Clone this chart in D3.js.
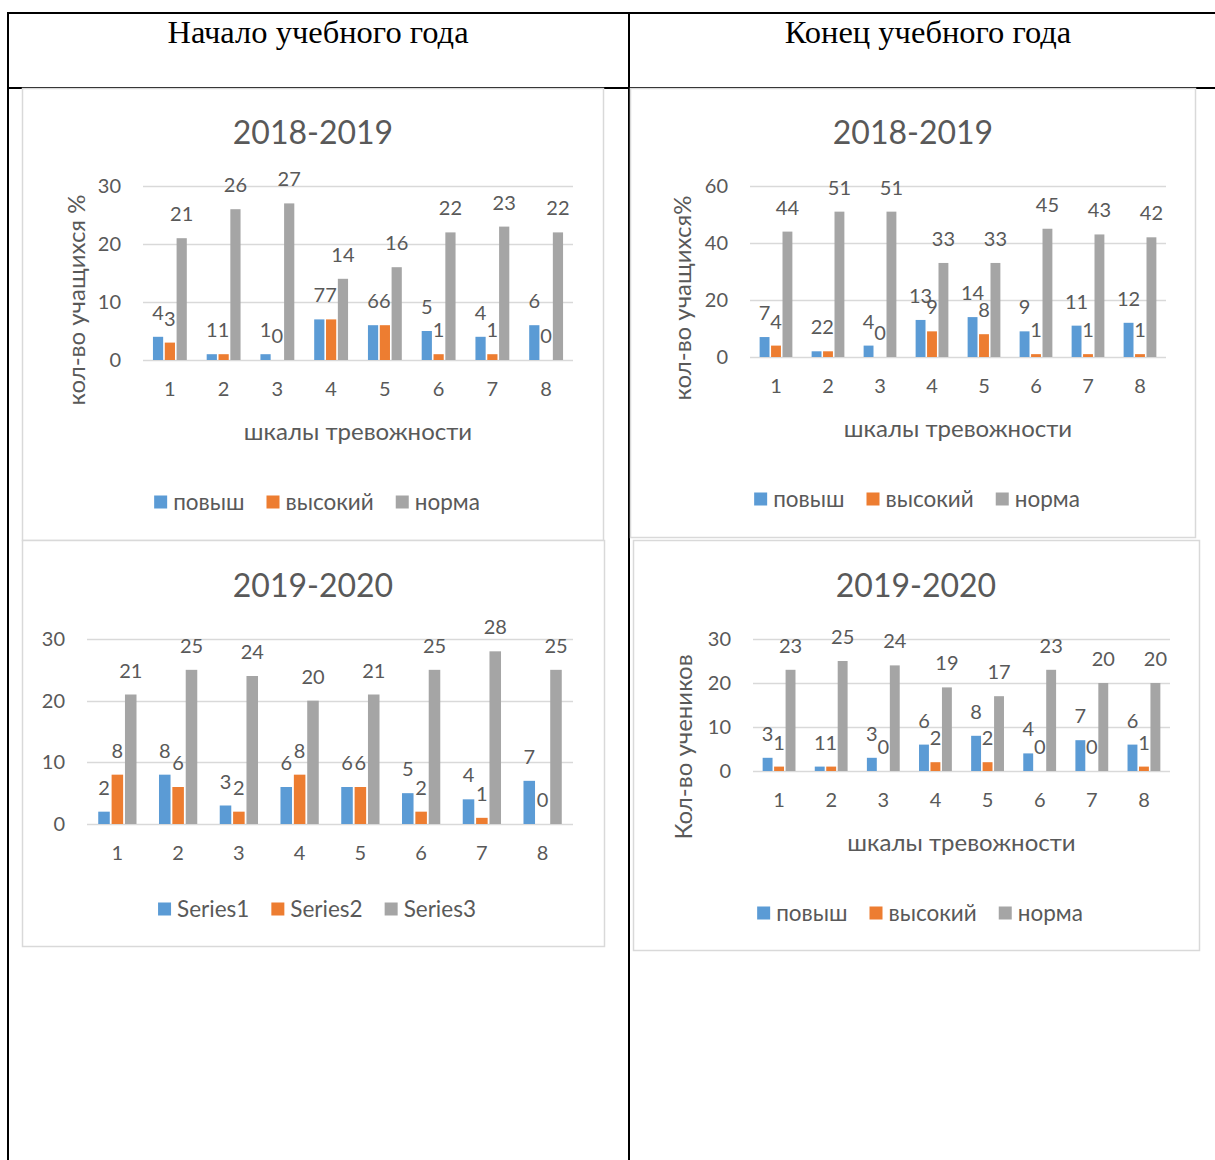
<!DOCTYPE html>
<html>
<head>
<meta charset="utf-8">
<script src="https://cdn.jsdelivr.net/npm/d3@7"></script>
<style>
  body { margin: 0; background: #fff; }
  svg text { font-family: Lato, "Open Sans", sans-serif; }
</style>
</head>
<body>
<div id="page"></div>
<script>
// categories (anxiety scales 1..8)
const scales = ["1", "2", "3", "4", "5", "6", "7", "8"];

// beginning of year, 2018-2019
const start1819Elev = [4, 1, 1, 7, 6, 5, 4, 6];
const start1819High = [3, 1, 0, 7, 6, 1, 1, 0];
const start1819Norm = [21, 26, 27, 14, 16, 22, 23, 22];

// end of year, 2018-2019
const end1819Elev = [7, 2, 4, 13, 14, 9, 11, 12];
const end1819High = [4, 2, 0, 9, 8, 1, 1, 1];
const end1819Norm = [44, 51, 51, 33, 33, 45, 43, 42];

// beginning of year, 2019-2020
const start1920S1 = [2, 8, 3, 6, 6, 5, 4, 7];
const start1920S2 = [8, 6, 2, 8, 6, 2, 1, 0];
const start1920S3 = [21, 25, 24, 20, 21, 25, 28, 25];

// end of year, 2019-2020
const end1920Elev = [3, 1, 3, 6, 8, 4, 7, 6];
const end1920High = [1, 1, 0, 2, 2, 0, 0, 1];
const end1920Norm = [23, 25, 24, 19, 17, 23, 20, 20];

const ticks30 = [0, 10, 20, 30];
const ticks60 = [0, 20, 40, 60];

const namesRu = ["повыш", "высокий", "норма"];
const namesEn = ["Series1", "Series2", "Series3"];

const colors = ["#5B9BD5", "#ED7D31", "#A5A5A5"];
const textColor = "#595959";

const width = 1215, height = 1160;

const svg = d3.select("#page")
  .append("svg")
  .attr("width", width)
  .attr("height", height)
  .attr("viewBox", [0, 0, width, height]);

/* Table lines and header */
const table = svg.append("g");
table.append("line").attr("x1", 7).attr("x2", width).attr("y1", 13).attr("y2", 13);
table.append("line").attr("x1", 8).attr("x2", 8).attr("y1", 12).attr("y2", height);
table.append("line").attr("x1", 629).attr("x2", 629).attr("y1", 12).attr("y2", height);
table.append("line").attr("x1", 7).attr("x2", width).attr("y1", 88).attr("y2", 88);
table.selectAll("line").attr("stroke", "#000").attr("stroke-width", 2);

table.selectAll("text.head")
  .data([["Начало учебного года", 318], ["Конец учебного года", 928]])
  .join("text")
    .attr("x", d => d[1])
    .attr("y", 43)
    .attr("text-anchor", "middle")
    .style("font-family", "'Liberation Serif', 'Times New Roman', serif")
    .style("font-size", "32.5px")
    .style("fill", "#000")
    .text(d => d[0]);

const createChart = (cfg) => {
  const g = svg.append("g");

  // chart frame
  g.append("rect")
    .attr("x", cfg.box[0] + 0.5).attr("y", cfg.box[1] + 0.5)
    .attr("width", cfg.box[2] - cfg.box[0]).attr("height", cfg.box[3] - cfg.box[1])
    .attr("fill", "#fff")
    .attr("stroke", "#D9D9D9")
    .attr("stroke-width", 1.5);

  const xScale = d3.scaleBand()
    .domain(scales)
    .range([cfg.plot[0], cfg.plot[1]]);

  const yScale = d3.scaleLinear()
    .domain([0, cfg.ticks[cfg.ticks.length - 1]])
    .range([cfg.plot[2], cfg.plot[3]]);

  const bw = xScale.bandwidth() * 0.19;
  const gap = xScale.bandwidth() * 0.03;
  const barX = (cat, i) => xScale(cat) + xScale.bandwidth() / 2 + (i - 1) * (bw + gap) - bw / 2;

  // title
  g.append("text")
    .attr("x", cfg.title[0]).attr("y", cfg.title[1])
    .attr("dy", "0.35em")
    .attr("text-anchor", "middle")
    .style("font-size", "32px")
    .style("fill", textColor)
    .text(cfg.titleText);

  // grid lines
  g.selectAll("line.grid")
    .data(cfg.ticks)
    .join("line")
      .attr("x1", cfg.plot[0]).attr("x2", cfg.plot[1])
      .attr("y1", d => Math.round(yScale(d)) + 0.5)
      .attr("y2", d => Math.round(yScale(d)) + 0.5)
      .attr("stroke", "#D9D9D9")
      .attr("stroke-width", 1.5);

  // y axis labels
  const yAxis = g.append("g")
    .attr("transform", `translate(${cfg.plot[0] - 22},0)`)
    .call(d3.axisLeft(yScale).tickValues(cfg.ticks).tickSize(0).tickPadding(0));
  yAxis.select(".domain").remove();
  yAxis.selectAll("text")
    .style("font-family", "Lato, sans-serif")
    .style("font-size", "20px")
    .style("fill", textColor);

  // x axis labels
  const xAxis = g.append("g")
    .attr("transform", `translate(0,${cfg.plot[2] + 22})`)
    .call(d3.axisBottom(xScale).tickSize(0).tickPadding(0));
  xAxis.select(".domain").remove();
  xAxis.selectAll("text")
    .style("font-family", "Lato, sans-serif")
    .style("font-size", "20px")
    .style("fill", textColor);

  // bars and labels
  cfg.series.forEach((values, i) => {
    const rows = scales.map((c, k) => ({cat: c, value: values[k]}));
    g.selectAll(`rect.s${i}`)
      .data(rows)
      .join("rect")
        .attr("class", `s${i}`)
        .attr("x", d => barX(d.cat, i))
        .attr("y", d => yScale(d.value))
        .attr("width", bw)
        .attr("height", d => yScale(0) - yScale(d.value))
        .attr("fill", colors[i]);

    g.selectAll(`text.l${i}`)
      .data(rows)
      .join("text")
        .attr("class", `l${i}`)
        .attr("x", d => barX(d.cat, i) + bw / 2)
        .attr("y", d => yScale(d.value) - 24)
        .attr("dy", "0.35em")
        .attr("text-anchor", "middle")
        .style("font-size", "20px")
        .style("fill", textColor)
        .text(d => d.value);
  });

  // axis titles
  if (cfg.xTitle) {
    g.append("text")
      .attr("x", (cfg.plot[0] + cfg.plot[1]) / 2)
      .attr("y", cfg.plot[2] + 72)
      .attr("dy", "0.35em")
      .attr("text-anchor", "middle")
      .style("font-size", "24px")
      .style("fill", textColor)
      .text(cfg.xTitle);
  }
  if (cfg.yTitle) {
    g.append("text")
      .attr("transform", `translate(${cfg.yTitlePos[0]},${cfg.yTitlePos[1]}) rotate(-90)`)
      .attr("dy", "0.35em")
      .attr("text-anchor", "middle")
      .style("font-size", "24px")
      .style("fill", textColor)
      .text(cfg.yTitle);
  }

  // legend
  const legend = g.append("g");
  let lx = 0;
  cfg.names.forEach((name, i) => {
    const item = legend.append("g").attr("transform", `translate(${lx},0)`);
    item.append("rect")
      .attr("x", 0).attr("y", -6.5)
      .attr("width", 13).attr("height", 13)
      .attr("fill", colors[i]);
    const t = item.append("text")
      .attr("x", 19)
      .attr("dy", "0.35em")
      .style("font-size", "22.5px")
      .style("fill", textColor)
      .text(name);
    lx += 19 + t.node().getComputedTextLength() + 22;
  });
  const legendW = lx - 22;
  legend.attr("transform", `translate(${cfg.legend[0] - legendW / 2},${cfg.legend[1]})`);
};

createChart({
  box: [22, 88, 603, 540],
  plot: [143, 573, 360, 186],
  ticks: ticks30,
  titleText: "2018-2019",
  title: [313, 133],
  series: [start1819Elev, start1819High, start1819Norm],
  names: namesRu,
  xTitle: "шкалы тревожности",
  yTitle: "кол-во учащихся %",
  yTitlePos: [77, 300],
  legend: [317, 502]
});

createChart({
  box: [630, 88, 1195, 537],
  plot: [750, 1166, 357, 186],
  ticks: ticks60,
  titleText: "2018-2019",
  title: [913, 133],
  series: [end1819Elev, end1819High, end1819Norm],
  names: namesRu,
  xTitle: "шкалы тревожности",
  yTitle: "кол-во учащихся%",
  yTitlePos: [683, 298],
  legend: [917, 499]
});

createChart({
  box: [22, 540, 604, 946],
  plot: [87, 573, 824, 639],
  ticks: ticks30,
  titleText: "2019-2020",
  title: [313, 586],
  series: [start1920S1, start1920S2, start1920S3],
  names: namesEn,
  legend: [317, 909]
});

createChart({
  box: [633, 540, 1199, 950],
  plot: [753, 1170, 771, 639],
  ticks: ticks30,
  titleText: "2019-2020",
  title: [916, 586],
  series: [end1920Elev, end1920High, end1920Norm],
  names: namesRu,
  xTitle: "шкалы тревожности",
  yTitle: "Кол-во учеников",
  yTitlePos: [684, 747],
  legend: [920, 913]
});
</script>
</body>
</html>
